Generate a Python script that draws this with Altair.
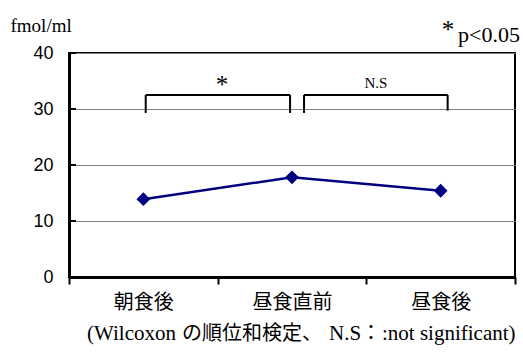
import altair as alt
import pandas as pd

# ---- data ----
categories = ["朝食後", "昼食直前", "昼食後"]
values = [13.9, 17.8, 15.4]
y_ticks = [0, 10, 20, 30, 40]

# significance brackets (x in category units 0..3, y in fmol/ml)
bracket_left = [0.516, 1.581]
bracket_right = [1.487, 2.547]
bracket_top = [32.5, 32.5]
bracket_bottom_left = [29.3, 29.3]
bracket_bottom_right = [29.3, 29.7]
bracket_labels = ["*", "N.S"]
bracket_label_x = [1.029, 2.065]
bracket_label_y = [32.9, 33.7]
bracket_label_size = [25, 15]

# caption pieces (latin in serif, Japanese in CJK font)
caption_latin = ["(Wilcoxon", "N.S", ":not significant)"]
caption_latin_px = [18, 260, 313]
caption_cjk = ["の順位和検定、", "："]
caption_cjk_px = [113, 292]

df = pd.DataFrame({"cat": categories, "val": values})
ticks_df = pd.DataFrame({"v": y_ticks})

segs = []
for i in range(len(bracket_left)):
    segs.append({"x": bracket_left[i], "x2": bracket_right[i], "y": bracket_top[i], "y2": bracket_top[i]})
    segs.append({"x": bracket_left[i], "x2": bracket_left[i], "y": bracket_top[i], "y2": bracket_bottom_left[i]})
    segs.append({"x": bracket_right[i], "x2": bracket_right[i], "y": bracket_top[i], "y2": bracket_bottom_right[i]})
seg_df = pd.DataFrame(segs)
lab_df = pd.DataFrame({"t": bracket_labels, "x": bracket_label_x, "y": bracket_label_y, "s": bracket_label_size})

SERIF = "Liberation Serif"
CJK = "Noto Sans CJK JP"
NAVY = "#000080"

yscale = alt.Scale(domain=[0, 40], nice=False)

x_band = alt.X(
    "cat:N",
    sort=categories,
    scale=alt.Scale(paddingInner=0, paddingOuter=0),
    axis=alt.Axis(
        title=None,
        labelFont=CJK,
        labelFontSize=20,
        labelColor="black",
        labelAngle=0,
        labelPadding=8,
        tickBand="extent",
        tickSize=7,
        tickWidth=2,
        tickColor="black",
        domainWidth=3,
        domainColor="black",
        grid=False,
    ),
)

y_enc = alt.Y(
    "val:Q",
    scale=yscale,
    axis=alt.Axis(
        values=y_ticks,
        title="fmol/ml",
        titleFont=SERIF,
        titleFontSize=19,
        titleFontWeight="normal",
        titleColor="black",
        titleAngle=0,
        titleAlign="left",
        titleBaseline="alphabetic",
        titleX=-59,
        titleY=-22,
        labelFont="Liberation Sans",
        labelFontSize=18,
        labelColor="black",
        labelPadding=16,
        ticks=False,
        domainWidth=3,
        domainColor="black",
        grid=True,
        gridColor="#808080",
        gridWidth=1,
    ),
)

line = alt.Chart(df).mark_line(color=NAVY, strokeWidth=2.5).encode(x=x_band, y=y_enc)
points = alt.Chart(df).mark_point(shape="diamond", filled=True, size=190, color=NAVY, opacity=1).encode(
    x=alt.X("cat:N", sort=categories), y=alt.Y("val:Q", scale=yscale)
)
main = alt.layer(line, points)

inner_ticks = alt.Chart(ticks_df).mark_rule(color="black", strokeWidth=2).encode(
    x=alt.value(0), x2=alt.value(7), y=alt.Y("v:Q", scale=yscale)
)

xq = alt.Scale(domain=[0, 3], nice=False, zero=False)
brackets = alt.Chart(seg_df).mark_rule(color="black", strokeWidth=2).encode(
    x=alt.X("x:Q", scale=xq, axis=None),
    x2="x2:Q",
    y=alt.Y("y:Q", scale=yscale),
    y2="y2:Q",
)
blabels = alt.Chart(lab_df).mark_text(font=SERIF, color="black", baseline="alphabetic", align="center").encode(
    x=alt.X("x:Q", scale=xq, axis=None),
    y=alt.Y("y:Q", scale=yscale),
    text="t:N",
    size=alt.Size("s:Q", scale=None, legend=None),
)

pnote = alt.Chart(pd.DataFrame({"t": ["p<0.05"]})).mark_text(
    font=SERIF, fontSize=22, color="black", align="right", baseline="alphabetic"
).encode(x=alt.value(451), y=alt.value(-11), text="t:N")
pstar = alt.Chart(pd.DataFrame({"t": ["*"]})).mark_text(
    font=SERIF, fontSize=25, color="black", align="center", baseline="alphabetic"
).encode(x=alt.value(379), y=alt.value(-15), text="t:N")

cap_latin = alt.Chart(pd.DataFrame({"t": caption_latin, "px": caption_latin_px})).mark_text(
    font=SERIF, fontSize=21, color="black", align="left", baseline="alphabetic"
).encode(x=alt.X("px:Q", scale=None, axis=None), y=alt.value(287), text="t:N")
cap_cjk = alt.Chart(pd.DataFrame({"t": caption_cjk, "px": caption_cjk_px})).mark_text(
    font=CJK, fontSize=20, color="black", align="left", baseline="alphabetic"
).encode(x=alt.X("px:Q", scale=None, axis=None), y=alt.value(287), text="t:N")

chart = (
    alt.layer(main, inner_ticks, brackets, blabels, pnote, pstar, cap_latin, cap_cjk)
    .resolve_scale(x="independent")
    .properties(
        width=446,
        height=224,
        autosize=alt.AutoSizeParams(type="none"),
        padding={"left": 69, "top": 53, "right": 8, "bottom": 77},
        background="white",
    )
    .configure_view(stroke="black", strokeWidth=2)
)

chart.save("out.html", embed_options={"renderer": "svg", "actions": False})
